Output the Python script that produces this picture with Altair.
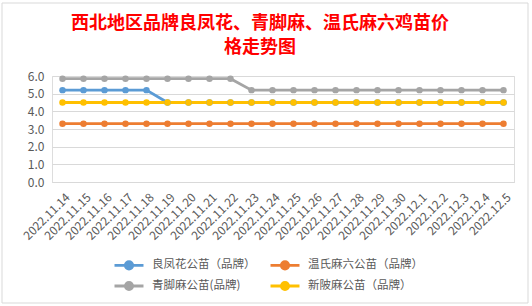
import altair as alt
import pandas as pd

dates = ["2022.11.14", "2022.11.15", "2022.11.16", "2022.11.17", "2022.11.18",
         "2022.11.19", "2022.11.20", "2022.11.21", "2022.11.22", "2022.11.23",
         "2022.11.24", "2022.11.25", "2022.11.26", "2022.11.27", "2022.11.28",
         "2022.11.29", "2022.11.30", "2022.12.1", "2022.12.2", "2022.12.3",
         "2022.12.4", "2022.12.5"]

series_names = ["良凤花公苗（品牌）", "温氏麻六公苗（品牌）", "青脚麻公苗(品牌)", "新陂麻公苗（品牌）"]
series_colors = ["#5B9BD5", "#ED7D31", "#A5A5A5", "#FFC000"]

lfh = [5.2, 5.2, 5.2, 5.2, 5.2, 4.5, 4.5, 4.5, 4.5, 4.5, 4.5, 4.5, 4.5, 4.5, 4.5,
       4.5, 4.5, 4.5, 4.5, 4.5, 4.5, 4.5]
wsm = [3.3] * 22
qjm = [5.85, 5.85, 5.85, 5.85, 5.85, 5.85, 5.85, 5.85, 5.85, 5.2, 5.2, 5.2, 5.2,
       5.2, 5.2, 5.2, 5.2, 5.2, 5.2, 5.2, 5.2, 5.2]
xbm = [4.5] * 22

rows = []
for name, vals in zip(series_names, [lfh, wsm, qjm, xbm]):
    for d, v in zip(dates, vals):
        rows.append({"date": d, "series": name, "price": v})
df = pd.DataFrame(rows)

font = "Noto Sans CJK SC"
sym_path = "M-2,0H2M-0.5,0A0.5,0.5,0,1,1,0.5,0A0.5,0.5,0,1,1,-0.5,0Z"

leg = alt.Legend(
    title=None, orient="none", legendX=68, legendY=180,
    columns=2, direction="horizontal", columnPadding=8, rowPadding=1,
    symbolType=sym_path, symbolSize=210, symbolStrokeWidth=2.8,
    symbolOpacity=1,
    labelFont=font, labelFontSize=11.5, labelColor="#595959",
    labelOffset=14)

scale = alt.Scale(domain=series_names, range=series_colors)

x_enc = alt.X("date:N", sort=dates, title=None,
              scale=alt.Scale(type="point", padding=0.5),
              axis=alt.Axis(labelAngle=-45, labelFontSize=12, labelColor="#595959",
                            labelFont=font, ticks=False, domain=True,
                            domainColor="#d9d9d9", grid=False, labelPadding=13,
                            labelOffset=5,
                            labelAlign="right", labelBaseline="middle"))
y_enc = alt.Y("price:Q", title=None,
              scale=alt.Scale(domain=[0, 6], nice=False),
              axis=alt.Axis(values=[0, 1, 2, 3, 4, 5, 6], format=".1f",
                            labelFontSize=12, labelColor="#595959", labelFont=font,
                            ticks=False, domain=False, gridColor="#d9d9d9",
                            labelPadding=8))

base = alt.Chart(df)

line_layer = base.mark_line(strokeWidth=2.8).encode(
    x=x_enc, y=y_enc,
    stroke=alt.Stroke("series:N", sort=series_names, scale=scale, legend=leg),
)
point_layer = base.mark_point(filled=True, size=42, opacity=1, strokeWidth=0).encode(
    x=x_enc, y=y_enc,
    stroke=alt.Stroke("series:N", sort=series_names, scale=scale, legend=leg),
    fill=alt.Fill("series:N", sort=series_names, scale=scale, legend=leg),
)

border = alt.Chart(pd.DataFrame({"a": [0]})).mark_rect(
    fill=None, stroke="#d9d9d9", strokeWidth=1
).encode(x=alt.value(-50), x2=alt.value(476), y=alt.value(-73), y2=alt.value(227))

chart = alt.layer(border, line_layer, point_layer).properties(
    width=462, height=106,
    padding={"left": 52, "top": 76, "right": 18, "bottom": 124},
    autosize=alt.AutoSizeParams(type="none"),
    title=alt.TitleParams(
        text=["西北地区品牌良凤花、青脚麻、温氏麻六鸡苗价", "格走势图"],
        font=font, fontSize=18, fontWeight="bold", color="#FF0000",
        anchor="middle", frame="group", dx=-23, dy=64, offset=10, lineHeight=24),
).configure_view(stroke=None).configure(background="white")

chart.save("out.html", embed_options={"renderer": "svg", "actions": False})
